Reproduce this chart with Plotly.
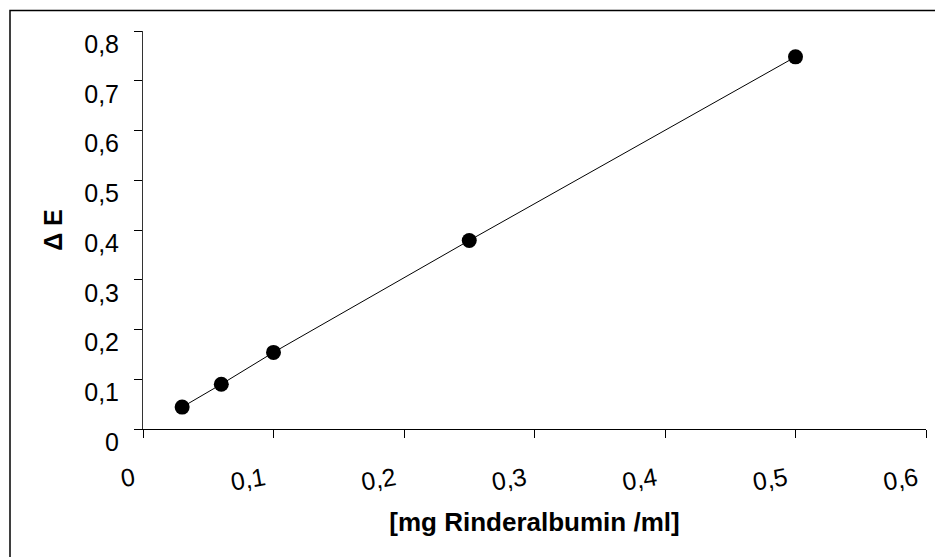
import plotly.graph_objects as go

# Data
conc = [0.03, 0.06, 0.1, 0.25, 0.5]            # mg Rinderalbumin / ml
delta_e = [0.044, 0.090, 0.154, 0.379, 0.748]  # ΔE

x_ticks = [0, 0.1, 0.2, 0.3, 0.4, 0.5, 0.6]
x_labels = ["0", "0,1", "0,2", "0,3", "0,4", "0,5", "0,6"]
y_ticks = [0, 0.1, 0.2, 0.3, 0.4, 0.5, 0.6, 0.7, 0.8]
y_labels = ["0", "0,1", "0,2", "0,3", "0,4", "0,5", "0,6", "0,7", "0,8"]

W, H = 935, 557
ML, MR, MT, MB = 143, 9, 31, 128
pw, ph = W - ML - MR, H - MT - MB

FONT = "Liberation Sans, Arial, sans-serif"

fig = go.Figure()
fig.add_trace(go.Scatter(
    x=conc, y=delta_e, mode="lines+markers",
    line=dict(color="black", width=1),
    marker=dict(color="black", size=15),
    showlegend=False, cliponaxis=False,
))

fig.update_layout(
    width=W, height=H,
    margin=dict(l=ML, r=MR, t=MT, b=MB, pad=0, autoexpand=False),
    paper_bgcolor="white", plot_bgcolor="white",
    font=dict(family=FONT, color="black"),
    xaxis=dict(
        range=[0, 0.6], tickvals=x_ticks, ticktext=x_labels, automargin=False,
        showgrid=False, zeroline=False, showline=True, linecolor="black", linewidth=1,
        ticks="outside", ticklen=8, tickwidth=1, tickcolor="black",
        tickangle=-10, tickfont=dict(size=25),
        ticklabelshift=-9, ticklabelstandoff=17,
        title=dict(text="<b>[mg Rinderalbumin /ml]</b>", font=dict(size=26), standoff=18),
    ),
    yaxis=dict(
        range=[0, 0.8], tickvals=y_ticks, ticktext=y_labels, automargin=False,
        showgrid=False, zeroline=False, showline=True, linecolor="#333333", linewidth=1,
        ticks="outside", ticklen=8, tickwidth=1, tickcolor="black",
        tickfont=dict(size=25),
        ticklabelshift=13, ticklabelstandoff=10,
        title=dict(text="<b>Δ E</b>", font=dict(size=25), standoff=14),
    ),
    shapes=[dict(
        type="rect", xref="paper", yref="paper",
        x0=(10 - ML) / pw, x1=1 + 30 / pw,
        y0=-(MB + 30) / ph, y1=1 + (MT - 10.5) / ph,
        line=dict(color="black", width=1.5), fillcolor="rgba(0,0,0,0)", layer="below",
    )],
)

fig.write_html("out.html")
